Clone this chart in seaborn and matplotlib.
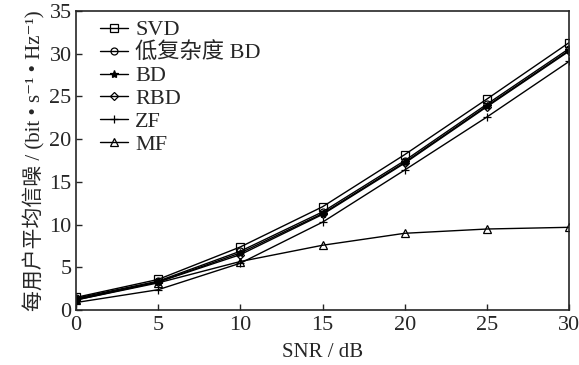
import matplotlib
matplotlib.use('Agg')
import matplotlib.pyplot as plt
import seaborn as sns
import pandas as pd

snr = [0, 5, 10, 15, 20, 25, 30]
svd = [1.5, 3.6, 7.4, 12.1, 18.2, 24.7, 31.3]
low_bd = [1.4, 3.4, 6.9, 11.5, 17.5, 24.1, 30.6]
bd = [1.2, 3.3, 6.7, 11.3, 17.3, 23.9, 30.4]
rbd = [1.3, 3.3, 6.5, 11.2, 17.2, 23.8, 30.3]
zf = [0.9, 2.4, 5.5, 10.3, 16.4, 22.6, 29.1]
mf = [1.2, 3.2, 5.7, 7.6, 9.0, 9.5, 9.7]

names = ['SVD', '低复杂度 BD', 'BD', 'RBD', 'ZF', 'MF']
series = [svd, low_bd, bd, rbd, zf, mf]

sns.set_style('ticks')
plt.rcParams['font.family'] = ['Liberation Serif', 'Noto Sans CJK SC', 'DejaVu Serif']

rows = []
for name, vals in zip(names, series):
    for x, y in zip(snr, vals):
        rows.append({'snr': x, 'rate': y, 'scheme': name})
df = pd.DataFrame(rows)

markers = {'SVD': 's', '低复杂度 BD': 'o', 'BD': '*', 'RBD': 'D', 'ZF': '+', 'MF': '^'}
sizes = {'SVD': 5.5, '低复杂度 BD': 5, 'BD': 6, 'RBD': 4, 'ZF': 6, 'MF': 6}
fills = {'SVD': 'none', '低复杂度 BD': 'none', 'BD': 'black', 'RBD': 'none', 'ZF': 'black', 'MF': 'none'}

fig, ax = plt.subplots(figsize=(5.79, 3.65), dpi=100)
for name in names:
    sub = df[df['scheme'] == name]
    sns.lineplot(data=sub, x='snr', y='rate', ax=ax, color='black', linewidth=1.0,
                 marker=markers[name], markersize=sizes[name],
                 markerfacecolor=fills[name], markeredgecolor='black',
                 markeredgewidth=0.9, label=name)

ax.set_xlim(0, 30)
ax.set_ylim(0, 35)
ax.set_xticks(range(0, 31, 5))
ax.set_yticks(range(0, 36, 5))
ax.tick_params(direction='in', labelsize=16, length=4, width=1)
ax.tick_params(axis='x', pad=4)
ax.tick_params(axis='y', pad=3)
for s in ax.spines.values():
    s.set_linewidth(1.2)
ax.set_xlabel('SNR / dB', fontsize=15, labelpad=6)
ax.set_ylabel('每用户平均信噪 / (bit • s⁻¹ • Hz⁻¹)', fontsize=15, labelpad=3)
leg = ax.legend(loc='upper left', frameon=False, fontsize=16, handlelength=1.3,
                handletextpad=0.3, labelspacing=0.1, borderaxespad=0.2,
                borderpad=0.2)
leg.set_bbox_to_anchor((0.03, 1.0), transform=ax.transAxes)

fig.subplots_adjust(left=0.131, right=0.983, bottom=0.15, top=0.97)
fig.savefig('out.png', dpi=100)
